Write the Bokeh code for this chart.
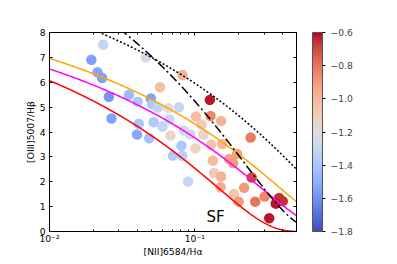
import numpy as np
from bokeh.plotting import figure
from bokeh.models import (ColumnDataSource, LinearColorMapper, ColorBar, FixedTicker,
                          LogAxis, LinearAxis, Range1d, Label, CustomJSTickFormatter)
from bokeh.transform import transform
from bokeh.embed import file_html
from bokeh.resources import INLINE

# ---------------- data ----------------
nii_ha = [0.0234, 0.0194, 0.0214, 0.0230, 0.0256, 0.0267, 0.0352, 0.0404, 0.0460, 0.0498,
          0.0506, 0.0576, 0.0556, 0.0657, 0.0777, 0.0411, 0.0520, 0.0598, 0.0400, 0.0485,
          0.0679, 0.0838, 0.0808, 0.0706, 0.0819, 0.0899, 0.1010, 0.1147, 0.0932, 0.0668,
          0.0821, 0.1267, 0.1282, 0.1018, 0.1514, 0.1111, 0.1291, 0.1538, 0.2419, 0.1952,
          0.1719, 0.1832, 0.1329, 0.1355, 0.1514, 0.1502, 0.2182, 0.2458, 0.1856, 0.2000,
          0.2599, 0.3022, 0.3793, 0.4023, 0.3599, 0.3246]
oiii_hb = [7.51, 6.90, 6.40, 6.17, 5.42, 4.54, 5.50, 5.22, 7.00, 5.35,
           5.12, 5.80, 4.98, 4.96, 4.99, 4.33, 4.39, 4.22, 3.90, 3.75,
           3.86, 4.06, 3.45, 3.05, 3.05, 2.01, 3.35, 3.90, 3.90, 4.50,
           6.29, 5.29, 4.64, 4.62, 4.44, 4.30, 3.49, 3.52, 3.78, 3.12,
           2.91, 2.75, 2.85, 2.35, 2.21, 1.78, 1.76, 2.17, 1.51, 1.20,
           1.20, 1.41, 1.35, 1.22, 1.12, 0.53]
color_val = [-1.30, -1.55, -1.52, -1.55, -1.58, -1.55, -1.45, -1.40, -1.25, -1.55,
             -1.38, -1.02, -1.32, -1.18, -1.30, -1.40, -1.38, -1.32, -1.52, -1.42,
             -1.15, -1.25, -1.40, -1.38, -1.36, -1.30, -1.12, -1.12, -1.25, -1.30,
             -0.98, -0.62, -0.85, -1.02, -0.98, -1.08, -1.05, -1.00, -0.82, -0.92,
             -0.92, -0.90, -1.00, -1.08, -0.98, -0.95, -0.90, -0.70, -1.05, -0.90,
             -0.80, -0.85, -0.65, -0.65, -0.62, -0.62]

# demarcation curves: log(y) = a / (log(x) - b) + c
kewley01 = (0.61, 0.47, 1.19)
kauff03 = (0.61, 0.05, 1.30)
curve_orange = (0.61, 0.29, 1.109)
curve_magenta = (0.61, 0.172, 1.096)
curve_red = (0.61, -0.135, 1.11)

x_ticks = [0.01, 0.1]
x_minor = [0.02, 0.03, 0.04, 0.05, 0.06, 0.07, 0.08, 0.09, 0.2, 0.3, 0.4, 0.5]
y_ticks = [0, 1, 2, 3, 4, 5, 6, 7, 8]
cb_ticks = [-1.8, -1.6, -1.4, -1.2, -1.0, -0.8, -0.6]

# coolwarm colormap anchors
cw = [(59, 76, 192), (68, 90, 204), (77, 104, 215), (87, 117, 225), (98, 130, 234),
      (108, 142, 241), (119, 154, 247), (130, 165, 251), (141, 176, 254), (152, 185, 255),
      (163, 194, 255), (174, 201, 253), (184, 208, 249), (194, 213, 244), (204, 217, 238),
      (213, 219, 230), (221, 221, 221), (229, 216, 209), (236, 211, 197), (241, 204, 185),
      (245, 196, 173), (247, 187, 160), (247, 177, 148), (247, 166, 135), (244, 154, 123),
      (241, 141, 111), (236, 127, 99), (229, 112, 88), (222, 96, 77), (213, 80, 66),
      (203, 62, 56), (192, 40, 47), (180, 4, 38)]
cw = np.array(cw, dtype=float)
pos = np.linspace(0, 1, len(cw))
t = np.linspace(0, 1, 256)
palette = ["#%02x%02x%02x" % tuple(int(round(np.interp(tt, pos, cw[:, k]))) for k in range(3)) for tt in t]

mapper = LinearColorMapper(palette=palette, low=-1.8, high=-0.6)

p = figure(width=397, height=264, x_axis_type="log",
           x_range=Range1d(0.01, 0.5), y_range=Range1d(0, 8),
           output_backend="svg", toolbar_location=None,
           min_border_left=49, min_border_right=101, min_border_top=32, min_border_bottom=33)
p.xgrid.grid_line_color = None
p.ygrid.grid_line_color = None
p.outline_line_color = "black"
p.background_fill_color = "white"

src = ColumnDataSource(dict(x=nii_ha, y=oiii_hb, v=color_val))
p.scatter("x", "y", source=src, size=10.5, fill_color=transform("v", mapper),
          line_color=None, fill_alpha=1.0)

xs = np.logspace(-2, np.log10(0.5), 400)
lx = np.log10(xs)


def curve(coef):
    a, b, c = coef
    return 10 ** (a / (lx - b) + c)


p.line(xs, curve(curve_orange), line_color="orange", line_width=1.5)
p.line(xs, curve(curve_magenta), line_color="magenta", line_width=1.5)
p.line(xs, curve(curve_red), line_color="red", line_width=1.5)
p.line(xs, curve(kewley01), line_color="black", line_width=1.5, line_dash="2 2")
p.line(xs, curve(kauff03), line_color="black", line_width=1.5, line_dash="9 3 2 3")

p.add_layout(Label(x=0.12, y=0.6, text="SF", text_font="DejaVu Sans",
                   text_font_size="15px", text_color="black",
                   text_align="left", text_baseline="alphabetic"))

fmt_x = CustomJSTickFormatter(code="return tick < 0.05 ? '10\u207b\u00b2' : '10\u207b\u00b9';")
fmt_none = CustomJSTickFormatter(code="return ' ';")
font = "DejaVu Sans"
fs = "9.2px"

xa = p.xaxis[0]
xa.ticker = FixedTicker(ticks=x_ticks, minor_ticks=x_minor)
xa.formatter = fmt_x
xa.axis_label = "[NII]6584/H\u03b1"
ya = p.yaxis[0]
ya.ticker = FixedTicker(ticks=y_ticks)
ya.axis_label = "[OIII]5007/H\u03b2"

top = LogAxis(ticker=FixedTicker(ticks=x_ticks, minor_ticks=x_minor), formatter=fmt_none)
right = LinearAxis(ticker=FixedTicker(ticks=y_ticks), formatter=fmt_none)
p.add_layout(top, "above")
p.add_layout(right, "right")

for ax in [xa, ya, top, right]:
    ax.axis_line_color = "black"
    ax.axis_line_width = 1
    ax.major_tick_line_color = "black"
    ax.major_tick_in = 3
    ax.major_tick_out = 0
    ax.minor_tick_line_color = "black"
    ax.minor_tick_in = 2
    ax.minor_tick_out = 0
    ax.major_label_text_font = font
    ax.major_label_text_font_size = fs
    ax.axis_label_text_font = font
    ax.axis_label_text_font_style = "normal"
    ax.axis_label_text_font_size = fs
    ax.axis_label_text_color = "black"
    ax.major_label_text_color = "black"
for ax in [ya, right]:
    ax.minor_tick_line_color = None
top.major_label_standoff = 0
right.major_label_standoff = 0
xa.major_label_standoff = 1
xa.axis_label_standoff = -1
ya.major_label_standoff = 4
ya.axis_label_standoff = 1

fmt_cb = CustomJSTickFormatter(code="return (tick < 0 ? '\u2212' : '') + Math.abs(tick).toFixed(1);")
cb = ColorBar(color_mapper=mapper, ticker=FixedTicker(ticks=cb_ticks), formatter=fmt_cb,
              width=10, height=199, padding=0, margin=0, location=(10, 0),
              major_tick_in=0, major_tick_out=3, major_tick_line_color="black",
              minor_tick_line_color=None,
              bar_line_color="#555555", bar_line_width=1,
              major_label_text_font=font, major_label_text_font_size=fs,
              label_standoff=5, background_fill_alpha=0, border_line_color=None)
p.add_layout(cb, "right")

with open("out.html", "w", encoding="utf-8") as f:
    f.write(file_html(p, INLINE))
